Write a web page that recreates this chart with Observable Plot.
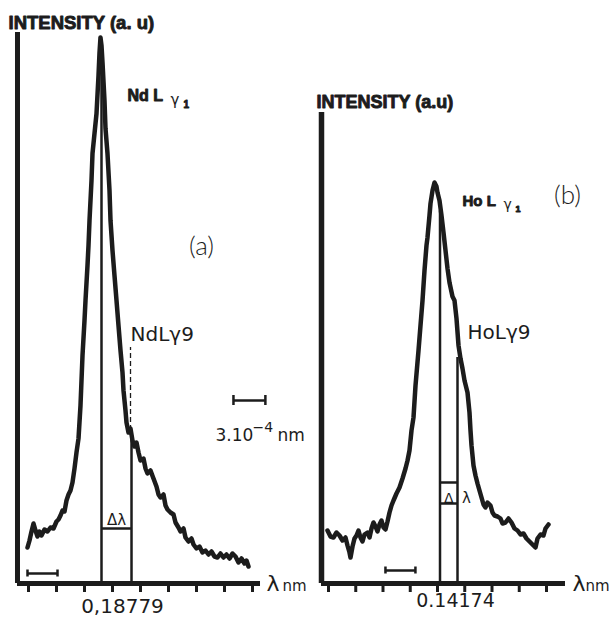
<!DOCTYPE html>
<html><head><meta charset="utf-8">
<script src="https://cdn.jsdelivr.net/npm/d3@7"></script>
<script src="https://cdn.jsdelivr.net/npm/@observablehq/plot@0.6"></script>
<style>
html,body{margin:0;padding:0;background:#fff;}
#chart{position:relative;width:615px;height:620px;overflow:hidden;background:#fff;}
#chart svg{position:absolute;top:0;background:#fff;}
</style></head><body><div id="chart"></div>
<script>
// Wavelength axis ticks (same tick positions, in tenths of a tick step)
const ticks = [0, 10, 20, 30, 40, 50, 60, 70, 80];
const centreLabelA = "0,18779";
const centreLabelB = "0.14174";

// Panel (a): Nd L-gamma spectrum (x: wavelength offset, y: intensity a.u.)
const ndX = [-0.36,0.36,1.07,1.79,2.5,3.21,3.93,4.64,5.71,6.79,7.86,8.93,10.0,10.71,11.43,12.14,12.86,13.57,14.29,15.0,15.71,16.43,17.14,17.86,18.57,19.29,20.0,20.36,21.07,21.43,21.79,22.5,22.86,23.57,24.29,25.0,25.36,25.71,26.07,26.43,27.14,27.5,28.21,28.93,29.29,30.0,30.71,31.43,32.14,32.86,33.57,33.93,34.64,35.0,35.71,36.43,37.14,37.86,38.57,39.29,40.0,41.07,41.79,42.5,43.57,44.64,45.71,46.43,47.14,48.21,48.93,49.64,50.71,51.79,52.5,53.57,54.29,55.36,56.07,57.14,58.21,58.93,60.0,61.07,62.14,63.21,64.29,65.36,66.43,67.5,68.57,69.64,70.71,71.79,72.86,73.93,75.0,76.07,77.14,77.86,78.57];
const ndY = [7.2,8.6,10.4,12.0,10.6,9.4,10.4,9.6,10.8,10.4,11.2,11.0,12.4,12.8,13.6,14.6,14.4,16.6,17.8,18.6,20.2,23.0,26.2,29.0,35.6,45.6,52.6,56.6,63.6,67.6,72.6,80.6,86.0,90.0,94.0,101.6,106.2,109.2,107.6,104.2,96.6,91.0,86.0,78.6,72.6,66.6,61.6,56.6,51.6,46.6,42.2,38.6,34.6,32.2,30.2,31.0,28.6,27.4,28.2,26.2,24.6,25.0,23.0,22.0,22.6,21.0,19.4,17.8,17.2,17.8,15.6,14.8,14.2,13.8,12.2,11.2,10.4,11.0,9.2,8.4,9.0,7.8,7.0,7.4,6.2,6.6,5.8,6.4,5.4,5.2,6.0,5.2,5.8,5.0,6.0,5.4,4.2,5.0,4.0,4.6,3.4];

// Panel (b): Ho L-gamma spectrum
const hoX = [-0.37,0.73,1.83,2.94,4.04,5.14,6.24,6.97,7.71,8.07,8.81,9.54,10.28,11.01,11.74,12.48,13.21,14.31,15.05,15.78,16.51,17.25,17.98,18.72,19.45,20.18,20.92,21.65,22.39,23.12,23.85,24.95,26.06,27.16,28.26,29.0,29.72,30.46,31.19,31.93,33.03,33.76,34.5,35.23,35.96,36.33,37.06,37.43,38.17,38.9,39.63,40.0,40.73,41.47,42.2,42.94,43.67,44.4,45.5,46.24,46.97,47.71,48.44,49.17,49.91,51.01,51.74,52.11,52.48,53.21,53.94,54.68,55.41,56.15,56.88,57.61,58.35,59.45,60.18,60.92,62.02,63.12,63.85,64.95,66.06,67.16,68.26,69.36,70.46,71.56,72.66,73.76,74.86,75.96,76.7,77.8,78.9,79.63,80.73];
const hoY = [10.6,9.4,9.2,10.2,9.6,8.6,9.2,7.6,6.2,5.2,7.4,9.0,9.6,10.6,9.2,8.4,9.8,10.2,9.2,11.0,12.2,11.4,10.4,11.8,12.6,11.2,10.8,12.4,14.2,15.6,16.6,18.0,19.2,21.0,23.0,24.6,26.6,30.6,33.2,39.6,46.6,51.6,56.6,62.6,67.6,69.2,73.6,76.0,78.6,80.2,79.4,78.2,76.6,73.6,70.2,66.6,63.0,60.2,57.4,56.6,53.0,47.6,45.0,43.0,40.6,38.2,34.2,30.6,27.6,23.6,21.6,20.0,18.6,17.2,15.8,15.2,16.2,15.6,14.2,13.6,13.4,13.0,12.0,12.2,13.0,12.2,11.0,10.6,9.8,10.0,9.0,8.4,7.8,7.2,9.0,9.8,9.6,11.0,11.8];

const ink = "#1c1c1c";
const sans = "DejaVu Sans, sans-serif";
const heavy = "Liberation Sans, Arial, sans-serif";
const yDomain = [-7.4, 116.6];

const ndData = ndX.map((x, i) => ({x, y: ndY[i]}));
const hoData = hoX.map((x, i) => ({x, y: hoY[i]}));

function label(t, x, y, o = {}) {
  return Plot.text([t], {text: d => d, x: () => x, y: () => y, fill: ink, textAnchor: "start", lineAnchor: "bottom", fontFamily: sans, fontSize: 18, ...o});
}
function bold(t, x, y, size, o = {}) {
  return label(t, x, y, {fontFamily: heavy, fontWeight: 900, fontSize: size, stroke: ink, strokeWidth: 0.9, ...o});
}
function scaleBar(x1, x2, y, cap) {
  return [
    Plot.ruleY([y], {x1, x2, stroke: ink, strokeWidth: 2.5}),
    Plot.ruleX([x1, x2], {y1: y - cap, y2: y + cap, stroke: ink, strokeWidth: 2.5})
  ];
}

const plotA = Plot.plot({
  width: 310, height: 620, margin: 0,
  x: {domain: [-10, 100.714], axis: null},
  y: {domain: yDomain, axis: null},
  marks: [
    Plot.ruleX([-3.93], {y1: 0, y2: 110.2, stroke: ink, strokeWidth: 5}),
    Plot.ruleY([0], {x1: -3.93, x2: 82.86, stroke: ink, strokeWidth: 5}),
    Plot.ruleX(ticks, {y1: 0, y2: -1.8, stroke: ink, strokeWidth: 3}),
    Plot.ruleX([26.07], {y1: 0, y2: 106, stroke: ink, strokeWidth: 2.5}),
    Plot.ruleX([36.79], {y1: 0, y2: 29, stroke: ink, strokeWidth: 2.5}),
    Plot.ruleX([36.43], {y1: 30.6, y2: 47.2, stroke: ink, strokeWidth: 1.3, strokeDasharray: "5,3"}),
    Plot.ruleY([11.0], {x1: 26.07, x2: 36.79, stroke: ink, strokeWidth: 2.5}),
    Plot.line(ndData, {x: "x", y: "y", stroke: ink, strokeWidth: 4.5, strokeLinejoin: "round", strokeLinecap: "round"}),
    ...scaleBar(-0.36, 10.36, 2.0, 0.7),
    ...scaleBar(73.2, 84.6, 36.6, 1.0),
    bold("INTENSITY (a. u)", -7.14, 111, 18.5),
    bold("Nd L", 35.36, 96.6, 16),
    label("γ", 50.71, 95.8, {fontSize: 15}),
    bold("1", 55.36, 95.2, 10),
    label("(a)", 61.79, 67.4, {textAnchor: "middle", lineAnchor: "middle", fontSize: 26, fontWeight: 300, fontFamily: "Lato, sans-serif"}),
    label("NdLγ9", 36.43, 48.6, {fontSize: 20, letterSpacing: 2.2}),
    label("Δλ", 31.43, 11.8, {textAnchor: "middle", fontSize: 15}),
    label("3.10", 66.79, 28.6, {fontSize: 17}),
    label("−4", 80.0, 30.4, {fontSize: 14}),
    label("nm", 88.93, 28.6, {fontSize: 17}),
    label(centreLabelA, 33.57, -4.6, {textAnchor: "middle", lineAnchor: "middle", fontSize: 20}),
    label("λ", 85.0, -1.4, {fontSize: 22}),
    label("nm", 90.71, -1.4, {fontSize: 15})
  ]
});

const plotB = Plot.plot({
  width: 305, height: 620, margin: 0,
  x: {domain: [-6.606, 105.321], axis: null},
  y: {domain: yDomain, axis: null},
  marks: [
    Plot.ruleX([-2.57], {y1: 0, y2: 94.2, stroke: ink, strokeWidth: 5.5}),
    Plot.ruleY([0], {x1: -2.57, x2: 86.97, stroke: ink, strokeWidth: 5}),
    Plot.ruleX(ticks, {y1: 0, y2: -1.8, stroke: ink, strokeWidth: 3}),
    Plot.ruleX([40.92], {y1: 0, y2: 74.5, stroke: ink, strokeWidth: 2.5}),
    Plot.ruleX([47.34], {y1: 0, y2: 45.2, stroke: ink, strokeWidth: 2.5}),
    Plot.ruleY([20.2, 16.0], {x1: 40.92, x2: 47.34, stroke: ink, strokeWidth: 2.5}),
    Plot.line(hoData, {x: "x", y: "y", stroke: ink, strokeWidth: 4.5, strokeLinejoin: "round", strokeLinecap: "round"}),
    ...scaleBar(20.9, 31.9, 2.6, 0.7),
    bold("INTENSITY (a.u)", -4.4, 95.2, 18),
    bold("Ho L", 49.17, 75.6, 15),
    label("γ", 64.2, 75.0, {fontSize: 14}),
    bold("1", 68.6, 74.4, 9),
    label("(b)", 87.7, 77.6, {textAnchor: "middle", lineAnchor: "middle", fontSize: 26, fontWeight: 300, fontFamily: "Lato, sans-serif"}),
    label("HoLγ9", 51.0, 49.0, {fontSize: 20, letterSpacing: 1.8}),
    label("Δ", 44.1, 16.2, {textAnchor: "middle", fontSize: 14}),
    label("λ", 50.6, 16.2, {textAnchor: "middle", fontSize: 15}),
    label(centreLabelB, 46.6, -3.4, {textAnchor: "middle", lineAnchor: "middle", fontSize: 19}),
    label("λ", 89.5, -1.4, {fontSize: 22}),
    label("nm", 94.3, -1.4, {fontSize: 15})
  ]
});

plotA.style.left = "0px";
plotB.style.left = "310px";
const chart = document.getElementById("chart");
chart.append(plotA, plotB);
</script>
</body></html>
